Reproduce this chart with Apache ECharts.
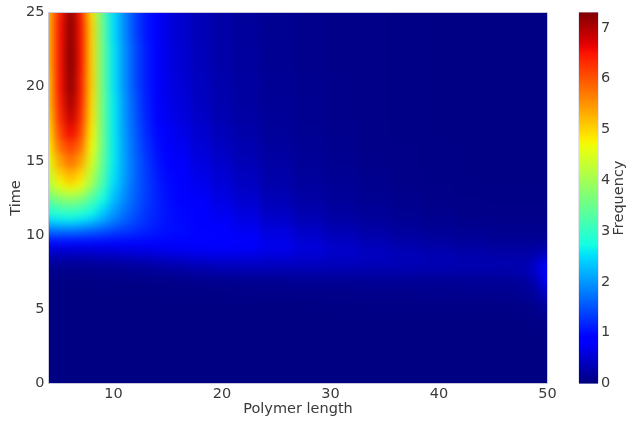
<!DOCTYPE html>
<html>
<head>
<meta charset="utf-8">
<script src="https://cdn.jsdelivr.net/npm/echarts@6/dist/echarts.min.js"></script>
<style>
  html, body { margin: 0; padding: 0; background: #fff; }
  #wrap { position: relative; width: 626px; height: 421px; }
  /* the colour field is drawn on its own layer, smoothed and clipped to the plot area */
  #clip { position: absolute; left: 49px; top: 13px; width: 498px; height: 370px; overflow: hidden; }
  #heat { position: absolute; left: -49px; top: -13px; width: 626px; height: 421px; filter: blur(4px); }
  #chart { position: absolute; left: 0; top: 0; width: 626px; height: 421px; }
</style>
</head>
<body>
<div id="wrap">
  <div id="clip"><div id="heat"></div></div>
  <div id="chart"></div>
</div>
<script>
// Polymer lengths (columns) and sampling times (rows) of the frequency grid
const lengths = [4, 5, 6, 7, 8, 9, 10, 11, 12, 13, 14, 15, 16, 18, 20, 22, 25, 28, 31, 34, 37, 40, 43, 46, 48, 49, 50];
const times = [0, 2, 4, 5, 6, 6.5, 7, 7.5, 8, 8.5, 9, 9.5, 10, 10.5, 11, 11.5, 12, 12.5, 13, 13.5, 14, 15, 16, 17, 18, 19, 20, 22, 24, 25];

// Frequency per polymer length, one row per time
const f_t0   = [0.01,0.01,0.01,0.01,0.01,0.01,0.01,0.01,0.01,0.01,0.01,0.01,0.01,0.01,0.01,0.01,0.01,0.01,0.01,0.01,0.01,0.01,0.01,0.01,0.01,0.01,0.02];
const f_t2   = [0.01,0.01,0.01,0.01,0.01,0.01,0.01,0.01,0.01,0.01,0.01,0.01,0.01,0.01,0.01,0.01,0.01,0.01,0.01,0.01,0.01,0.01,0.01,0.01,0.01,0.01,0.02];
const f_t4   = [0.01,0.01,0.01,0.01,0.01,0.01,0.01,0.01,0.01,0.01,0.01,0.01,0.01,0.01,0.01,0.01,0.01,0.01,0.01,0.01,0.01,0.01,0.02,0.02,0.02,0.03,0.05];
const f_t5   = [0.01,0.01,0.01,0.01,0.01,0.01,0.01,0.01,0.01,0.01,0.01,0.01,0.01,0.02,0.02,0.02,0.02,0.02,0.03,0.03,0.03,0.03,0.03,0.04,0.05,0.08,0.15];
const f_t6   = [0.02,0.02,0.02,0.02,0.02,0.02,0.02,0.02,0.02,0.02,0.03,0.03,0.03,0.04,0.04,0.05,0.05,0.06,0.06,0.07,0.07,0.08,0.08,0.09,0.12,0.20,0.40];
const f_t6_5 = [0.02,0.02,0.02,0.02,0.02,0.03,0.03,0.03,0.03,0.03,0.04,0.04,0.04,0.05,0.06,0.07,0.08,0.09,0.09,0.10,0.10,0.11,0.12,0.12,0.15,0.28,0.60];
const f_t7   = [0.04,0.04,0.04,0.04,0.04,0.05,0.05,0.05,0.06,0.06,0.07,0.07,0.08,0.10,0.12,0.13,0.14,0.15,0.15,0.15,0.15,0.16,0.16,0.17,0.20,0.38,0.80];
const f_t7_5 = [0.07,0.07,0.07,0.08,0.08,0.09,0.10,0.11,0.12,0.13,0.14,0.16,0.18,0.22,0.25,0.27,0.28,0.28,0.28,0.27,0.27,0.26,0.26,0.26,0.30,0.50,0.95];
const f_t8   = [0.15,0.15,0.15,0.16,0.17,0.18,0.19,0.21,0.23,0.25,0.27,0.30,0.33,0.38,0.42,0.43,0.42,0.40,0.38,0.36,0.34,0.33,0.31,0.30,0.32,0.50,0.85];
const f_t8_5 = [0.30,0.30,0.30,0.31,0.32,0.33,0.35,0.37,0.39,0.42,0.45,0.48,0.51,0.56,0.58,0.57,0.53,0.48,0.44,0.40,0.36,0.33,0.30,0.28,0.28,0.36,0.55];
const f_t9   = [0.55,0.55,0.55,0.56,0.57,0.58,0.60,0.62,0.64,0.66,0.68,0.70,0.72,0.76,0.78,0.75,0.67,0.57,0.48,0.40,0.33,0.28,0.24,0.21,0.21,0.24,0.32];
const f_t9_5 = [0.95,0.95,0.95,0.95,0.94,0.93,0.92,0.92,0.91,0.90,0.90,0.90,0.90,0.90,0.87,0.80,0.68,0.55,0.43,0.33,0.26,0.21,0.17,0.15,0.15,0.16,0.18];
const f_t10  = [1.45,1.45,1.45,1.42,1.38,1.32,1.25,1.20,1.14,1.08,1.03,0.99,0.97,0.93,0.86,0.76,0.62,0.48,0.36,0.27,0.20,0.16,0.13,0.11,0.11,0.11,0.12];
const f_t10_5= [1.95,2.00,2.00,1.95,1.85,1.70,1.55,1.42,1.30,1.18,1.08,1.01,0.97,0.90,0.81,0.70,0.55,0.41,0.30,0.22,0.16,0.12,0.10,0.09,0.09,0.09,0.09];
const f_t11  = [2.45,2.55,2.60,2.50,2.35,2.10,1.82,1.60,1.40,1.23,1.11,1.02,0.96,0.86,0.76,0.64,0.49,0.35,0.25,0.18,0.13,0.10,0.08,0.07,0.07,0.07,0.07];
const f_t11_5= [2.80,2.95,3.00,2.90,2.70,2.35,2.00,1.72,1.47,1.27,1.13,1.02,0.95,0.83,0.71,0.59,0.43,0.30,0.21,0.15,0.11,0.08,0.06,0.06,0.06,0.06,0.06];
const f_t12  = [3.10,3.35,3.40,3.30,3.00,2.60,2.15,1.82,1.53,1.30,1.14,1.02,0.94,0.80,0.67,0.54,0.38,0.26,0.18,0.13,0.09,0.07,0.05,0.05,0.05,0.05,0.05];
const f_t12_5= [3.50,3.80,3.90,3.80,3.30,2.80,2.30,1.90,1.57,1.32,1.14,1.00,0.92,0.77,0.62,0.49,0.34,0.23,0.16,0.11,0.08,0.06,0.05,0.04,0.04,0.04,0.04];
const f_t13  = [3.90,4.30,4.50,4.30,3.70,3.00,2.40,1.95,1.60,1.33,1.13,0.99,0.90,0.73,0.58,0.45,0.31,0.21,0.15,0.10,0.07,0.05,0.04,0.04,0.04,0.04,0.04];
const f_t13_5= [4.10,4.70,5.00,4.70,4.00,3.20,2.50,2.00,1.62,1.33,1.12,0.97,0.87,0.70,0.55,0.42,0.28,0.19,0.13,0.09,0.06,0.05,0.04,0.03,0.03,0.03,0.03];
const f_t14  = [4.30,5.00,5.30,5.00,4.20,3.30,2.55,2.05,1.62,1.32,1.10,0.95,0.84,0.66,0.52,0.39,0.26,0.17,0.12,0.08,0.06,0.04,0.03,0.03,0.03,0.03,0.03];
const f_t15  = [4.60,5.40,5.80,5.40,4.50,3.40,2.60,2.05,1.62,1.30,1.05,0.90,0.78,0.60,0.46,0.34,0.22,0.15,0.10,0.07,0.05,0.04,0.03,0.03,0.03,0.03,0.03];
const f_t16  = [4.80,5.80,6.20,5.80,4.70,3.50,2.60,2.05,1.60,1.25,1.00,0.84,0.72,0.55,0.41,0.30,0.19,0.13,0.09,0.06,0.05,0.04,0.03,0.03,0.03,0.03,0.03];
const f_t17  = [4.90,6.10,6.60,6.10,4.80,3.50,2.60,2.02,1.55,1.20,0.95,0.78,0.66,0.50,0.36,0.26,0.17,0.11,0.08,0.06,0.04,0.03,0.03,0.03,0.03,0.03,0.03];
const f_t18  = [5.00,6.30,6.90,6.30,4.90,3.50,2.60,2.00,1.52,1.15,0.90,0.72,0.60,0.45,0.32,0.23,0.15,0.10,0.07,0.05,0.04,0.03,0.03,0.03,0.03,0.03,0.03];
const f_t19  = [5.10,6.40,7.10,6.40,4.95,3.50,2.60,2.00,1.50,1.12,0.87,0.70,0.58,0.42,0.30,0.21,0.14,0.10,0.07,0.05,0.04,0.03,0.03,0.03,0.03,0.03,0.03];
const f_t20  = [5.10,6.50,7.25,6.45,5.00,3.50,2.55,1.95,1.45,1.10,0.85,0.67,0.55,0.40,0.28,0.20,0.13,0.09,0.07,0.05,0.04,0.03,0.03,0.03,0.03,0.03,0.03];
const f_t22  = [5.20,6.50,7.30,6.50,5.00,3.50,2.55,1.95,1.45,1.10,0.83,0.65,0.53,0.37,0.26,0.19,0.12,0.08,0.06,0.05,0.04,0.03,0.03,0.03,0.03,0.03,0.03];
const f_t24  = [5.20,6.50,7.25,6.50,5.00,3.45,2.50,1.90,1.40,1.05,0.80,0.63,0.51,0.35,0.25,0.18,0.11,0.08,0.06,0.05,0.04,0.03,0.03,0.03,0.03,0.03,0.03];
const f_t25  = [5.20,6.40,7.20,6.40,4.90,3.40,2.50,1.90,1.40,1.05,0.80,0.62,0.50,0.34,0.24,0.17,0.11,0.08,0.06,0.05,0.04,0.03,0.03,0.03,0.03,0.03,0.03];

const frequencyRows = [f_t0, f_t2, f_t4, f_t5, f_t6, f_t6_5, f_t7, f_t7_5, f_t8, f_t8_5, f_t9, f_t9_5,
  f_t10, f_t10_5, f_t11, f_t11_5, f_t12, f_t12_5, f_t13, f_t13_5, f_t14, f_t15, f_t16, f_t17, f_t18,
  f_t19, f_t20, f_t22, f_t24, f_t25];

// Tick labels
const xTicks = [10, 20, 30, 40, 50];
const yTicks = [0, 5, 10, 15, 20, 25];
const cbarTicks = [0, 1, 2, 3, 4, 5, 6, 7];
const cbarMax = 7.3;

// Jet colour map (piecewise linear segments)
function seg(pts, f) {
  for (let k = 1; k < pts.length; k++) {
    if (f <= pts[k][0]) {
      const [x0, y0] = pts[k - 1], [x1, y1] = pts[k];
      return y0 + (y1 - y0) * (f - x0) / (x1 - x0);
    }
  }
  return pts[pts.length - 1][1];
}
const jetR = [[0, 0], [0.35, 0], [0.66, 1], [0.89, 1], [1, 0.5]];
const jetG = [[0, 0], [0.125, 0], [0.375, 1], [0.64, 1], [0.91, 0], [1, 0]];
const jetB = [[0, 0.5], [0.11, 1], [0.34, 1], [0.65, 0], [1, 0]];
function jet(f) {
  const c = v => Math.round(255 * Math.max(0, Math.min(1, v)));
  return 'rgb(' + c(seg(jetR, f)) + ',' + c(seg(jetG, f)) + ',' + c(seg(jetB, f)) + ')';
}
const NSTOP = 64;
const jetColors = [];
for (let k = 0; k <= NSTOP; k++) jetColors.push(jet(k / NSTOP));

// Cell records: [length, time, frequency, column index, row index]
const cells = [];
frequencyRows.forEach((row, j) => {
  row.forEach((v, i) => cells.push([lengths[i], times[j], v, i, j]));
});

function edge(arr, i, side) {
  if (side < 0) return i === 0 ? arr[0] : (arr[i - 1] + arr[i]) / 2;
  return i === arr.length - 1 ? arr[i] : (arr[i] + arr[i + 1]) / 2;
}

const FONT = 'DejaVu Sans';
const TXT = '#3a3a3a';
const FS = 14.5;
const labelStyle = { color: TXT, fontFamily: FONT, fontSize: FS };

const plotGrid = { left: 48.5, top: 12.5, width: 499, height: 371, outerBoundsMode: 'none', containLabel: false };
const xRange = { min: 4, max: 50 };
const yRange = { min: 0, max: 25 };

// Colour field layer
const heat = echarts.init(document.getElementById('heat'), null, { renderer: 'canvas' });
heat.setOption({
  animation: false,
  grid: Object.assign({ show: false }, plotGrid),
  xAxis: Object.assign({ type: 'value', show: false }, xRange),
  yAxis: Object.assign({ type: 'value', show: false }, yRange),
  visualMap: {
    type: 'continuous', show: false, min: 0, max: cbarMax,
    dimension: 2, seriesIndex: 0,
    inRange: { color: jetColors }
  },
  series: [{
    type: 'custom', clip: false, silent: true,
    data: cells,
    encode: { x: 0, y: 1 },
    renderItem(params, api) {
      const i = api.value(3), j = api.value(4);
      const a = api.coord([edge(lengths, i, -1), edge(times, j, 1)]);
      const b = api.coord([edge(lengths, i, 1), edge(times, j, -1)]);
      // outermost cells run past the plot edge so the smoothing does not fade at the border
      let x0 = Math.round(a[0]), x1 = Math.round(b[0]);
      let y0 = Math.round(a[1]), y1 = Math.round(b[1]);
      if (i === 0) x0 -= 20;
      if (i === lengths.length - 1) x1 += 20;
      if (j === 0) y1 += 20;
      if (j === times.length - 1) y0 -= 20;
      return {
        type: 'rect',
        shape: { x: x0, y: y0, width: x1 - x0, height: y1 - y0 },
        style: { fill: api.visual('color') }
      };
    }
  }]
});

// Axes, labels and colour bar
const chart = echarts.init(document.getElementById('chart'), null, { renderer: 'canvas' });
chart.setOption({
  animation: false,
  backgroundColor: 'transparent',
  grid: [
    Object.assign({ show: true, borderColor: '#c8c8d8', borderWidth: 1, backgroundColor: 'transparent' }, plotGrid),
    { left: 579, top: 12.5, width: 19, height: 371, show: true, borderColor: '#c8c8d8', borderWidth: 1,
      backgroundColor: 'transparent', outerBoundsMode: 'none', containLabel: false }
  ],
  xAxis: [
    Object.assign({
      type: 'value', gridIndex: 0,
      name: 'Polymer length', nameLocation: 'middle', nameGap: 18.5, nameMoveOverlap: false,
      nameTextStyle: labelStyle,
      axisLine: { show: false }, axisTick: { show: false }, splitLine: { show: false },
      axisLabel: Object.assign({ customValues: xTicks, margin: 3 }, labelStyle)
    }, xRange),
    { type: 'value', gridIndex: 1, min: 0, max: 1, show: false }
  ],
  yAxis: [
    Object.assign({
      type: 'value', gridIndex: 0,
      name: 'Time', nameLocation: 'middle', nameGap: 24.5, nameMoveOverlap: false,
      nameTextStyle: labelStyle,
      axisLine: { show: false }, axisTick: { show: false }, splitLine: { show: false },
      axisLabel: Object.assign({ customValues: yTicks, margin: 4 }, labelStyle)
    }, yRange),
    {
      type: 'value', gridIndex: 1, min: 0, max: cbarMax, position: 'right',
      name: 'Frequency', nameLocation: 'middle', nameGap: 14, nameMoveOverlap: false,
      nameTextStyle: labelStyle,
      axisLine: { show: false }, axisTick: { show: false }, splitLine: { show: false },
      axisLabel: Object.assign({ customValues: cbarTicks, margin: 3 }, labelStyle)
    }
  ],
  series: [
    {
      type: 'custom', xAxisIndex: 1, yAxisIndex: 1, silent: true,
      data: [[0, cbarMax]],
      renderItem(params, api) {
        const a = api.coord([0, api.value(1)]);
        const b = api.coord([1, 0]);
        const stops = jetColors.map((c, k) => ({ offset: k / NSTOP, color: c }));
        return {
          type: 'rect',
          shape: { x: a[0], y: a[1], width: b[0] - a[0], height: b[1] - a[1] },
          style: { fill: new echarts.graphic.LinearGradient(0, 1, 0, 0, stops) }
        };
      }
    }
  ]
});
</script>
</body>
</html>
